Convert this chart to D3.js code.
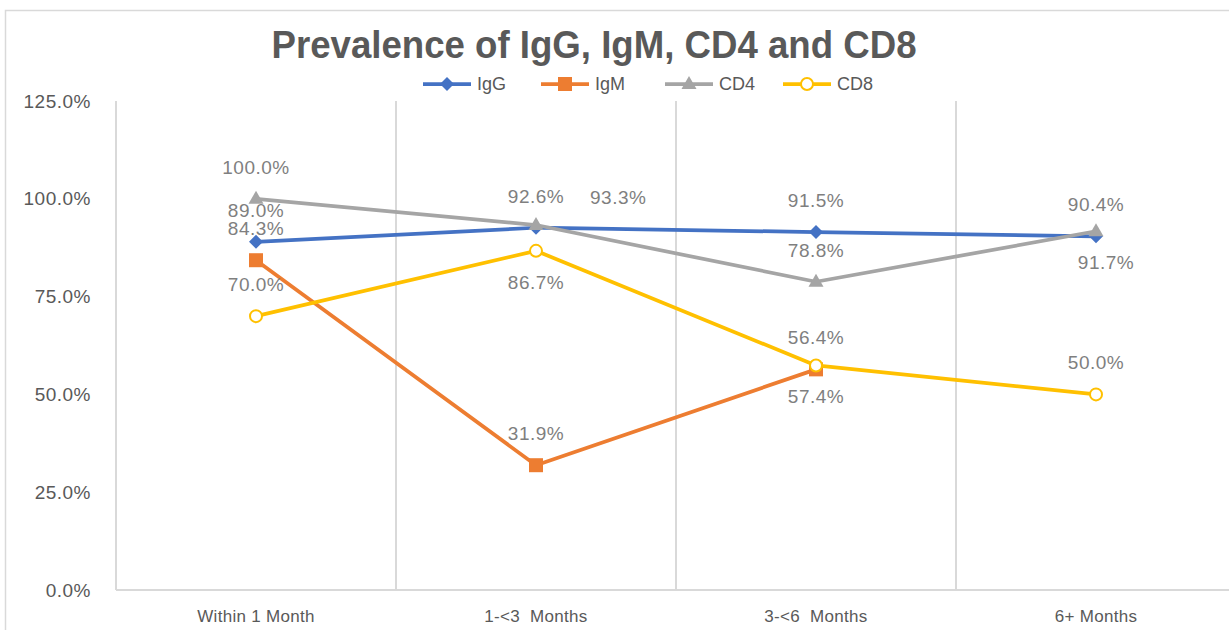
<!DOCTYPE html>
<html><head><meta charset="utf-8">
<script src="https://cdn.jsdelivr.net/npm/d3@7"></script>
<style>body{margin:0;background:#fff;overflow:hidden}svg{display:block}</style>
</head><body>
<svg id="c" width="1229" height="630"></svg>
<script>
const categories = ["Within 1 Month", "1-<3  Months", "3-<6  Months", "6+ Months"];
const seriesNames = ["IgG", "IgM", "CD4", "CD8"];
const igg = [89.0, 92.6, 91.5, 90.4];
const igm = [84.3, 31.9, 56.4, null];
const cd4 = [100.0, 93.3, 78.8, 91.7];
const cd8 = [70.0, 86.7, 57.4, 50.0];
const yTicks = [0, 25, 50, 75, 100, 125];
const title = "Prevalence of IgG, IgM, CD4 and CD8";
// label placement per series (style)
const labelPlace = {
  IgG: ["above","above","above","above"],
  IgM: ["above","above","above","above"],
  CD4: ["above","right","above","below"],
  CD8: ["above","below","below","above"]
};
const colors = {IgG:"#4472C4", IgM:"#ED7D31", CD4:"#A5A5A5", CD8:"#FFC000"};
const markers = {IgG:"diamond", IgM:"square", CD4:"triangle", CD8:"circle"};
const values = {IgG: igg, IgM: igm, CD4: cd4, CD8: cd8};

const svg = d3.select("#c");
const font = "'Liberation Sans', Arial, sans-serif";

// outer frame
svg.append("rect").attr("x",5.5).attr("y",10.5).attr("width",1300).attr("height",700)
  .attr("fill","#fff").attr("stroke","#d9d9d9").attr("stroke-width",1.5);

const x = d3.scaleBand().domain(categories).range([116, 1236]).padding(0);
const y = d3.scaleLinear().domain([0,125]).range([590, 101]);
const cx = c => x(c) + x.bandwidth()/2;

// title
svg.append("text").attr("x",594).attr("y",58).attr("text-anchor","middle")
  .attr("font-family",font).attr("font-weight","bold").attr("font-size",38)
  .attr("fill","#595959").attr("textLength",645).attr("lengthAdjust","spacingAndGlyphs")
  .text(title);

// vertical gridlines
svg.append("g").selectAll("line").data(categories).join("line")
  .attr("x1",d=>x(d)).attr("x2",d=>x(d)).attr("y1",y(125)).attr("y2",y(0))
  .attr("stroke","#d9d9d9").attr("stroke-width",2);

// x axis line
const xAxis = d3.axisBottom(x).tickSize(0).tickPadding(20);
const gx = svg.append("g").attr("transform",`translate(0,${y(0)})`).call(xAxis);
gx.select(".domain").attr("stroke","#d9d9d9").attr("stroke-width",2).attr("d","M116,0H1236");
gx.selectAll("text").attr("font-family",font).attr("font-size",17).attr("fill","#595959")
  .attr("dy","0.71em").attr("letter-spacing","0.3").style("white-space","pre");

// y axis labels
const yAxis = d3.axisLeft(y).tickValues(yTicks).tickSize(0).tickPadding(25)
  .tickFormat(d => d.toFixed(1) + "%");
const gy = svg.append("g").attr("transform",`translate(116,0)`).call(yAxis);
gy.select(".domain").remove();
gy.selectAll("text").attr("font-family",font).attr("font-size",19).attr("fill","#595959")
  .attr("letter-spacing","0.5");

function markerPath(type){
  if(type==="diamond") return "M0,-7L7,0L0,7L-7,0Z";
  if(type==="square") return "M-7,-7H7V7H-7Z";
  if(type==="triangle") return "M0,-8L7.5,5L-7.5,5Z";
  return null;
}
function drawMarker(g, type, color){
  if(type==="circle"){
    g.append("circle").attr("r",6).attr("fill","#fff").attr("stroke",color).attr("stroke-width",2);
  } else {
    g.append("path").attr("d",markerPath(type)).attr("fill",color);
  }
}

const line = d3.line().defined(d=>d.v!=null).x(d=>cx(d.c)).y(d=>y(d.v));
const plot = svg.append("g");
seriesNames.forEach(s=>{
  const pts = categories.map((c,i)=>({c, v: values[s][i]}));
  plot.append("path").datum(pts).attr("d",line).attr("fill","none")
    .attr("stroke",colors[s]).attr("stroke-width",3.75).attr("stroke-linejoin","round");
  pts.filter(p=>p.v!=null).forEach(p=>{
    const g = plot.append("g").attr("transform",`translate(${cx(p.c)},${y(p.v)})`);
    drawMarker(g, markers[s], colors[s]);
  });
});

// data labels
const lab = svg.append("g").attr("font-family",font).attr("font-size",19).attr("fill","#7f7f7f")
  .attr("letter-spacing","0.5");
seriesNames.forEach(s=>{
  categories.forEach((c,i)=>{
    const v = values[s][i]; if(v==null) return;
    const pl = labelPlace[s][i];
    let tx = cx(c), ty = y(v), anchor="middle";
    if(pl==="above") ty -= 25;
    else if(pl==="below"){ ty += 38; if(i===3) tx += 10; }
    else if(pl==="right"){ tx += 54; ty -= 21; anchor="start"; }
    lab.append("text").attr("x",tx).attr("y",ty).attr("text-anchor",anchor).text(v.toFixed(1)+"%");
  });
});

// legend
const legendItems = [
  {s:"IgG", x0:423}, {s:"IgM", x0:541}, {s:"CD4", x0:665}, {s:"CD8", x0:783}
];
const lg = svg.append("g");
legendItems.forEach(it=>{
  const g = lg.append("g").attr("transform",`translate(${it.x0},84)`);
  g.append("line").attr("x1",0).attr("x2",48).attr("stroke",colors[it.s]).attr("stroke-width",3.75);
  const m = g.append("g").attr("transform","translate(24,0)");
  drawMarker(m, markers[it.s], colors[it.s]);
  g.append("text").attr("x",54).attr("y",0).attr("dy","0.35em")
    .attr("font-family",font).attr("font-size",18).attr("fill","#595959").text(it.s);
});
</script>
</body></html>
